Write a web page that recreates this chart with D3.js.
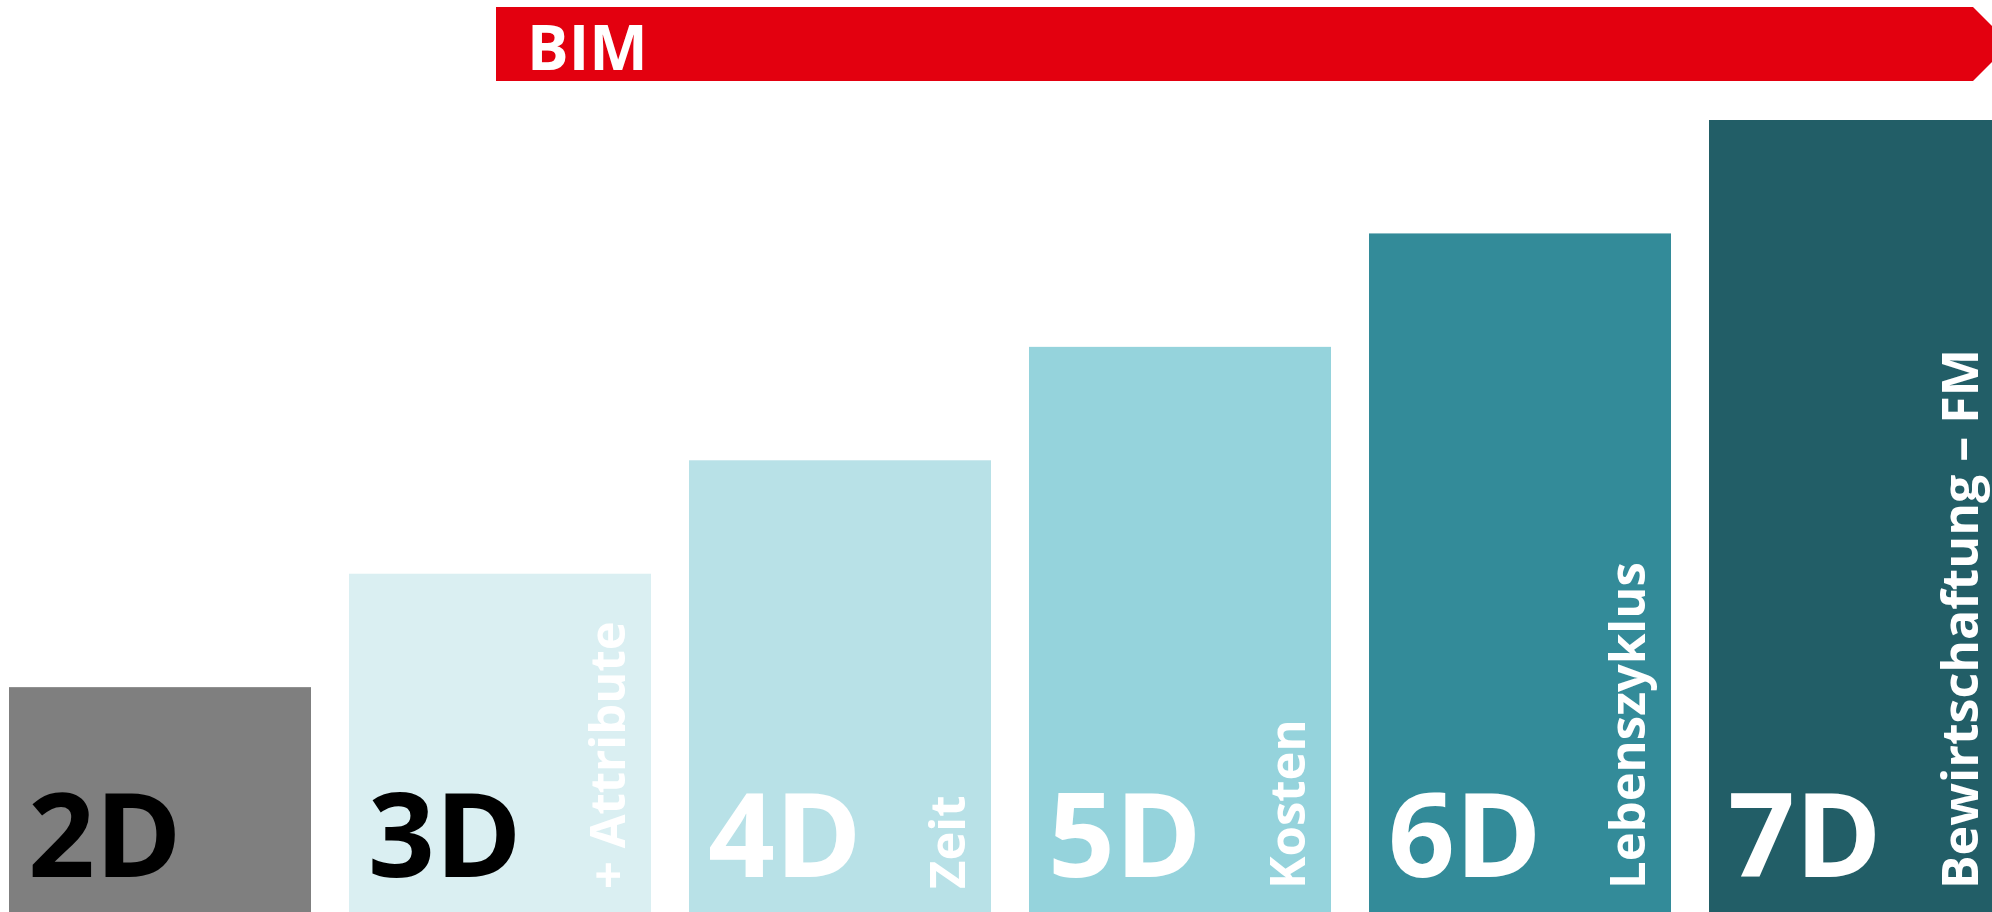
<!DOCTYPE html>
<html>
<head>
<meta charset="utf-8">
<script src="https://cdn.jsdelivr.net/npm/d3@7"></script>
<style>
	html, body { margin: 0; padding: 0; background: #fff; overflow: hidden; }
	svg { display: block; font-family: "Open Sans", "DejaVu Sans", sans-serif; font-weight: bold; }
</style>
</head>
<body>
<div id="chart"></div>
<script>
// BIM dimensions, each one adds an aspect on top of the previous
const dimensions = ["2D", "3D", "4D", "5D", "6D", "7D"]
const levels = [2, 3, 4, 5, 6, 7]
const aspects = ["", "+ Attribute", "Zeit", "Kosten", "Lebenszyklus", "Bewirtschaftung – FM"]
const barColors = ["#7f7f7f", "#daeff2", "#b8e1e7", "#95d3dc", "#338b99", "#225e67"]
const labelColors = ["#000", "#000", "#fff", "#fff", "#fff", "#fff"]
const bannerLabel = "BIM"
const bannerStart = "3D"

function whenDocumentLoaded(action) {
	if (document.readyState === "loading") {
		document.addEventListener("DOMContentLoaded", action);
	} else {
		action();
	}
}

whenDocumentLoaded(() => {
	const width = 1992
	const height = 912
	const data = dimensions.map((d, i) => ({
		name: d,
		level: levels[i],
		aspect: aspects[i],
		color: barColors[i],
		labelColor: labelColors[i]
	}))

	const x = d3.scaleBand().domain(dimensions).range([9, 2011]).paddingInner(38 / 340).paddingOuter(0)
	const y = d3.scaleLinear().domain([0, 7]).range([914, 120])
	const bw = x.bandwidth()

	const svg = d3.select("#chart").append("svg")
		.attr("width", width)
		.attr("height", height)
		.attr("viewBox", [0, 0, width, height])

	// red BIM banner with arrow head at the right
	const bx = x(bannerStart) + bw / 2 - 4
	const top = 7, bottom = 81, mid = (top + bottom) / 2
	const tipX = 2010
	svg.append("path")
		.attr("d", `M${bx},${top}H${tipX - (mid - top)}L${tipX},${mid}L${tipX - (mid - top)},${bottom}H${bx}Z`)
		.attr("fill", "#e3000f")
	svg.append("text")
		.attr("x", bx + 31)
		.attr("y", 70)
		.attr("fill", "#fff")
		.style("font-size", "62px")
		.text(bannerLabel)

	const bar = svg.append("g")
		.selectAll("g")
		.data(data)
		.join("g")

	bar.append("rect")
		.attr("x", d => x(d.name))
		.attr("y", d => y(d.level))
		.attr("width", bw)
		.attr("height", d => y(0) - y(d.level))
		.attr("fill", d => d.color)

	bar.append("text")
		.attr("x", d => x(d.name) + 19)
		.attr("y", 877)
		.attr("fill", d => d.labelColor)
		.style("font-size", "117px")
		.text(d => d.name)

	// vertical aspect labels, kept inside the picture for the last bar
	bar.filter(d => d.aspect !== "")
		.append("text")
		.attr("transform", d => `translate(${Math.min(x(d.name) + bw - 26, width - 14)},889) rotate(-90)`)
		.attr("fill", "#fff")
		.style("font-size", d => d.name === "7D" ? "50px" : "49px")
		.text(d => d.aspect)
})
</script>
</body>
</html>
